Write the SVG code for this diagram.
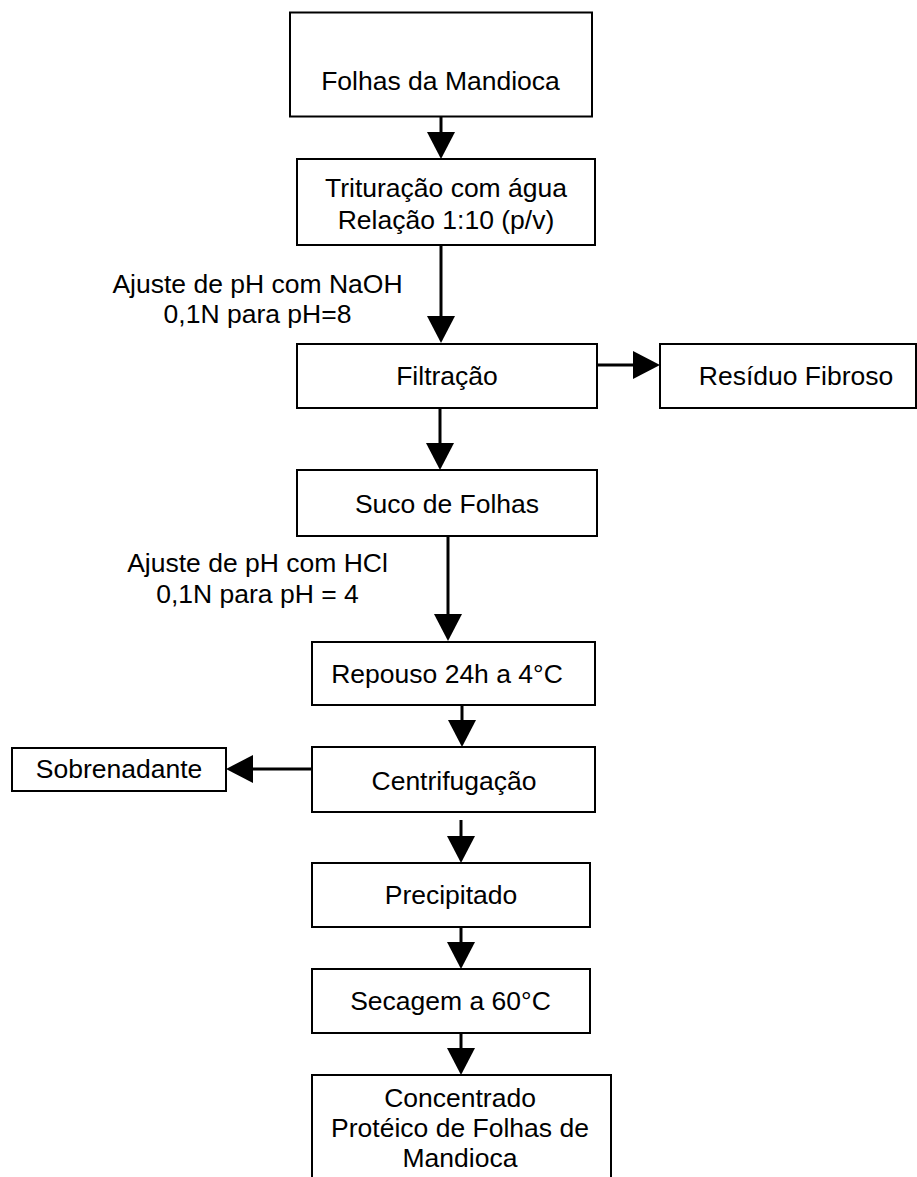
<svg xmlns="http://www.w3.org/2000/svg" width="917" height="1177" viewBox="0 0 917 1177">
  <style>
    .box { fill: #ffffff; stroke: #000000; stroke-width: 2; }
    .lbl { font-family: "Liberation Sans", Arial, sans-serif; font-size: 26.5px; fill: #000000; text-anchor: middle; }
    .wire { fill: none; stroke: #000000; stroke-width: 3; }
  </style>
  <defs>
    <marker id="arrow" viewBox="0 0 27 28" markerWidth="27" markerHeight="28" refX="17" refY="14" orient="auto" markerUnits="userSpaceOnUse">
      <path d="M0,0 L27,14 L0,28 Z" fill="#000000"/>
    </marker>
  </defs>
  <rect width="917" height="1177" fill="#ffffff"/>

  <!-- connectors -->
  <g id="connectors">
    <line class="wire" x1="441" y1="117" x2="441" y2="149" marker-end="url(#arrow)"/>
    <line class="wire" x1="441" y1="245" x2="441" y2="333" marker-end="url(#arrow)"/>
    <line class="wire" x1="597" y1="365" x2="650" y2="365" marker-end="url(#arrow)"/>
    <line class="wire" x1="440" y1="408" x2="440" y2="460" marker-end="url(#arrow)"/>
    <line class="wire" x1="448" y1="536" x2="448" y2="631" marker-end="url(#arrow)"/>
    <line class="wire" x1="462" y1="705" x2="462" y2="737" marker-end="url(#arrow)"/>
    <line class="wire" x1="312" y1="769" x2="236" y2="769" marker-end="url(#arrow)"/>
    <line class="wire" x1="461" y1="820" x2="461" y2="853" marker-end="url(#arrow)"/>
    <line class="wire" x1="461" y1="927" x2="461" y2="959" marker-end="url(#arrow)"/>
    <line class="wire" x1="461" y1="1033" x2="461" y2="1065" marker-end="url(#arrow)"/>
  </g>

  <!-- side notes on the flow -->
  <g id="note-naoh">
    <text class="lbl" x="257.5" y="293">Ajuste de pH com NaOH</text>
    <text class="lbl" x="257.5" y="323">0,1N para pH=8</text>
  </g>
  <g id="note-hcl">
    <text class="lbl" x="257.5" y="572">Ajuste de pH com HCl</text>
    <text class="lbl" x="257.5" y="603">0,1N para pH = 4</text>
  </g>

  <!-- process steps -->
  <g id="folhas">
    <rect class="box" x="290" y="12.5" width="302" height="104"/>
    <text class="lbl" x="440.5" y="90">Folhas da Mandioca</text>
  </g>
  <g id="trituracao">
    <rect class="box" x="297" y="159" width="298" height="86"/>
    <text class="lbl" x="446" y="197">Trituração com água</text>
    <text class="lbl" x="446" y="229">Relação 1:10 (p/v)</text>
  </g>
  <g id="filtracao">
    <rect class="box" x="297" y="344" width="300" height="64"/>
    <text class="lbl" x="447" y="385">Filtração</text>
  </g>
  <g id="residuo">
    <rect class="box" x="660" y="344" width="256" height="64"/>
    <text class="lbl" x="796" y="385">Resíduo Fibroso</text>
  </g>
  <g id="suco">
    <rect class="box" x="297" y="470" width="300" height="66"/>
    <text class="lbl" x="447" y="513">Suco de Folhas</text>
  </g>
  <g id="repouso">
    <rect class="box" x="312" y="642" width="283" height="63"/>
    <text class="lbl" x="447" y="683">Repouso 24h a 4°C</text>
  </g>
  <g id="sobrenadante">
    <rect class="box" x="12" y="748" width="214" height="43"/>
    <text class="lbl" x="119" y="778">Sobrenadante</text>
  </g>
  <g id="centrifugacao">
    <rect class="box" x="312" y="747" width="283" height="65"/>
    <text class="lbl" x="454" y="790">Centrifugação</text>
  </g>
  <g id="precipitado">
    <rect class="box" x="312" y="863" width="278" height="64"/>
    <text class="lbl" x="451" y="904">Precipitado</text>
  </g>
  <g id="secagem">
    <rect class="box" x="312" y="969" width="278" height="64"/>
    <text class="lbl" x="450.5" y="1010">Secagem a 60°C</text>
  </g>
  <g id="concentrado">
    <rect class="box" x="312" y="1075" width="299" height="130"/>
    <text class="lbl" x="460" y="1107">Concentrado</text>
    <text class="lbl" x="460" y="1137">Protéico de Folhas de</text>
    <text class="lbl" x="460" y="1167">Mandioca</text>
  </g>
</svg>
